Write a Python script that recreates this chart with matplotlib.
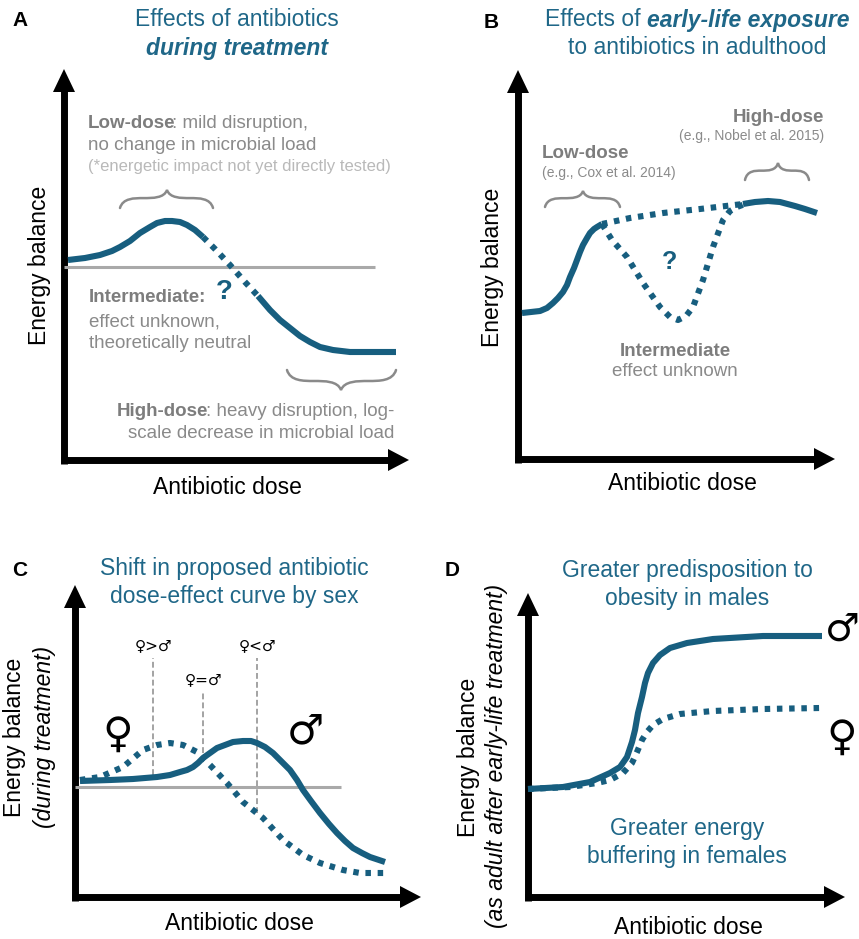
import matplotlib
matplotlib.use('Agg')
import matplotlib.pyplot as plt
from matplotlib.patches import Polygon, PathPatch
from matplotlib.path import Path

plt.rcParams['font.family'] = ['Liberation Sans', 'DejaVu Sans']

# ---------------- data (dose / energy in arbitrary units from each panel's origin) -------------
# Panel A
doseA_low = [4, 21, 36, 48, 56, 66, 76, 86, 93, 101, 108, 116, 123, 131, 139]
energyA_low = [200, 202, 205, 209, 213, 219, 227, 233, 237, 239, 239, 238, 235, 230, 223]
doseA_mid = [139, 151, 166, 181, 194]
energyA_mid = [223, 211, 195, 178, 164]
doseA_high = [194, 200, 206, 216, 226, 236, 246, 256, 269, 286, 303, 332]
energyA_high = [164, 157, 150, 140, 132, 124, 118, 113, 110, 108, 108, 108]
baselineA = 193
baselineA_end = 311

# Panel B
doseB_low = [4, 13, 22, 29, 35, 40, 45, 49, 52, 56, 59, 62, 65, 69, 72, 76, 79, 84]
energyB_low = [146, 147, 148, 151, 156, 161, 167, 174, 182, 191, 199, 207, 214, 221, 226, 230, 232, 235]
doseB_dip = [84, 94, 109, 125, 142, 152, 160, 168, 175, 185, 195, 205, 212, 219, 227]
energyB_dip = [235, 219, 202, 176, 152, 142, 139, 143, 152, 179, 212, 239, 248, 252, 255]
doseB_flat = [84, 112, 145, 182, 225]
energyB_flat = [235, 241, 246, 250, 255]
doseB_high = [225, 237, 250, 262, 277, 287, 299]
energyB_high = [255, 257, 258, 257, 253, 250, 246]

# Panel C
doseC_male = [5, 35, 58, 82, 95, 105, 112, 118, 123, 128, 135, 142, 150, 158, 168, 176, 182, 190,
              198, 206, 215, 222, 228, 236, 245, 254, 262, 270, 278, 287, 295, 310]
energyC_male = [116, 117, 118, 120, 122, 125, 127, 130, 134, 139, 144, 149, 152, 155, 156, 156, 154, 150,
                144, 136, 127, 117, 107, 96, 84, 73, 64, 56, 49, 44, 40, 35]
doseC_female = [5, 25, 48, 68, 82, 95, 108, 122, 135, 152, 168, 188, 208, 228, 245, 268, 285, 310]
energyC_female = [117, 120, 130, 147, 152, 154, 152, 145, 132, 114, 95, 79, 57, 42, 34, 27, 24, 24]
baselineC = 110
baselineC_end = 266
thresh_dose = [78, 128, 182]
thresh_top = [239, 205, 239]
thresh_bottom = [122, 144, 84]
thresh_labels = ['♀>♂', '♀=♂', '♀<♂']

# Panel D
doseD_male = [0, 35, 62, 82, 92, 99, 104, 107, 110, 114, 117, 120, 125, 132, 142, 159, 185, 235, 294]
energyD_male = [108, 110, 115, 124, 130, 140, 155, 167, 184, 200, 214, 224, 234, 242, 249, 254, 258, 261, 261]
doseD_female = [0, 42, 69, 82, 95, 104, 109, 114, 119, 125, 135, 152, 185, 235, 292]
energyD_female = [108, 110, 114, 117, 124, 134, 145, 157, 165, 172, 178, 183, 186, 188, 189]

# ---------------- style -------------
W_PX, H_PX = 859, 939
BLUE = '#175e7f'
BLUE_TXT = '#1f6788'
GRAY_B = '#7d7d7d'
GRAY = '#8a8a8a'
GRAY_L = '#b9b9b9'
LW = 4.4
DOT = (0, (0.9, 1.1))
TITLE_FS = 16.5
LAB_FS = 16.5
ANN_FS = 13.5
SYM = ['DejaVu Sans']

fig = plt.figure(figsize=(W_PX / 100, H_PX / 100), dpi=100)
ov = fig.add_axes([0, 0, 1, 1])
ov.set_xlim(0, W_PX)
ov.set_ylim(H_PX, 0)
ov.axis('off')
renderer = fig.canvas.get_renderer()

# panel geometry: origin x, origin y, arrow tip x, arrow tip y (pixels)
GEOM = {'A': (64, 460, 409, 69), 'B': (518, 459, 835, 70),
        'C': (75, 897, 421, 585), 'D': (528, 897, 845, 593)}


def panel_axes(key):
    ox, oy, tx, ty = GEOM[key]
    w, h = tx - ox, oy - ty
    ax = fig.add_axes([ox / W_PX, (H_PX - oy) / H_PX, w / W_PX, h / H_PX])
    ax.set_xlim(0, w)
    ax.set_ylim(0, h)
    ax.axis('off')
    ax.patch.set_alpha(0)
    ov.plot([ox, ox], [oy + 3.5, ty + 20], color='black', lw=5.0, solid_capstyle='butt')
    ov.plot([ox - 3.5, tx - 18], [oy, oy], color='black', lw=5.0, solid_capstyle='butt')
    ov.add_patch(Polygon([[ox, ty], [ox - 11, ty + 23], [ox + 11, ty + 23]], closed=True,
                         color='black', lw=0))
    ov.add_patch(Polygon([[tx, oy], [tx - 21, oy - 11], [tx - 21, oy + 11]], closed=True,
                         color='black', lw=0))
    return ax


def curve(ax, x, y, dotted=False, z=3):
    if dotted:
        ax.plot(x, y, color=BLUE, lw=LW, linestyle=DOT, dash_capstyle='butt',
                dash_joinstyle='round', clip_on=False, zorder=z)
    else:
        ax.plot(x, y, color=BLUE, lw=LW, solid_capstyle='butt', solid_joinstyle='round',
                clip_on=False, zorder=z)


def brace(x0, x1, xm, ye, yt, color='#8a8a8a', lw=1.8):
    ym = ye - 0.55 * (ye - yt)
    L1 = xm - x0
    L2 = x1 - xm
    verts = [(x0, ye),
             (x0 + 0.06 * L1, ym), (x0 + 0.3 * L1, ym), (x0 + 0.5 * L1, ym),
             (xm - 0.3 * L1, ym), (xm - 0.06 * L1, ym), (xm, yt),
             (xm + 0.06 * L2, ym), (xm + 0.3 * L2, ym), (xm + 0.5 * L2, ym),
             (x1 - 0.3 * L2, ym), (x1 - 0.06 * L2, ym), (x1, ye)]
    codes = [Path.MOVETO] + [Path.CURVE4] * 12
    ov.add_patch(PathPatch(Path(verts, codes), fill=False, edgecolor=color, lw=lw,
                           capstyle='round'))


def txt(x, y, s, fs, color='black', ha='center', va='center', **kw):
    return ov.text(x, y, s, fontsize=fs, color=color, ha=ha, va=va, **kw)


def mixed(x, y, parts, fs, ha='left'):
    """parts: list of (string, color, weight, style, gap_before_px)"""
    objs = []
    for s, c, wgt, sty, gap in parts:
        t = ov.text(0, y, s, fontsize=fs, color=c, fontweight=wgt, fontstyle=sty,
                    ha='left', va='center')
        objs.append((t, gap))
    widths = [t.get_window_extent(renderer).width for t, g in objs]
    total = sum(widths) + sum(g for t, g in objs)
    if ha == 'left':
        cur = x
    elif ha == 'center':
        cur = x - total / 2
    else:
        cur = x - total
    for (t, g), w in zip(objs, widths):
        cur += g
        t.set_x(cur)
        cur += w


# ---------------- Panel A ----------------
axA = panel_axes('A')
axA.plot([0, baselineA_end], [baselineA, baselineA], color='#a9a9a9', lw=2.2, zorder=1,
         solid_capstyle='butt')
curve(axA, doseA_low, energyA_low)
curve(axA, doseA_mid, energyA_mid, dotted=True)
curve(axA, doseA_high, energyA_high)

txt(20, 20, 'A', 15, fontweight='bold')
txt(237, 20, 'Effects of antibiotics', TITLE_FS, BLUE_TXT)
txt(237, 48, 'during treatment', TITLE_FS, BLUE_TXT, fontweight='bold', fontstyle='italic')
txt(40, 265, 'Energy balance', LAB_FS, rotation=90)
txt(227, 487, 'Antibiotic dose', LAB_FS)

mixed(88, 123, [('Low-dose', GRAY_B, 'bold', 'normal', 0),
                (': mild disruption,', GRAY, 'normal', 'normal', -3)], ANN_FS)
txt(88, 145, 'no change in microbial load', ANN_FS, GRAY, ha='left')
txt(88, 166, '(*energetic impact not yet directly tested)', 12, GRAY_L, ha='left')
brace(120, 213, 167, 208, 190)

txt(89, 298, 'Intermediate:', ANN_FS, GRAY_B, ha='left', fontweight='bold')
txt(89, 322, 'effect unknown,', ANN_FS, GRAY, ha='left')
txt(89, 344, 'theoretically neutral', ANN_FS, GRAY, ha='left')
txt(224, 292, '?', 20, BLUE, fontweight='bold')

brace(287, 396, 341, 370, 390)
mixed(394, 411, [('High-dose', GRAY_B, 'bold', 'normal', 0),
                 (': heavy disruption, log-', GRAY, 'normal', 'normal', -3)], ANN_FS, ha='right')
txt(394, 433, 'scale decrease in microbial load', ANN_FS, GRAY, ha='right')

# ---------------- Panel B ----------------
axB = panel_axes('B')
curve(axB, doseB_low, energyB_low)
curve(axB, doseB_dip, energyB_dip, dotted=True)
curve(axB, doseB_flat, energyB_flat, dotted=True)
curve(axB, doseB_high, energyB_high)

txt(491, 22, 'B', 15, fontweight='bold')
mixed(697, 20, [('Effects of', BLUE_TXT, 'normal', 'normal', 0),
                ('early-life exposure', BLUE_TXT, 'bold', 'italic', 6.4)], TITLE_FS, ha='center')
txt(697, 48, 'to antibiotics in adulthood', TITLE_FS, BLUE_TXT)
txt(492, 267, 'Energy balance', LAB_FS, rotation=90)
txt(682, 483, 'Antibiotic dose', LAB_FS)

txt(542, 153, 'Low-dose', ANN_FS, GRAY_B, ha='left', fontweight='bold')
txt(542, 173, '(e.g., Cox et al. 2014)', 10, GRAY, ha='left')
brace(545, 620, 583, 207, 191)
txt(824, 117, 'High-dose', ANN_FS, GRAY_B, ha='right', fontweight='bold')
txt(824, 136, '(e.g., Nobel et al. 2015)', 10, GRAY, ha='right')
brace(745, 809, 778, 180, 163)
txt(670, 262, '?', 18, BLUE, fontweight='bold')
txt(675, 351, 'Intermediate', ANN_FS, GRAY_B, fontweight='bold')
txt(675, 372, 'effect unknown', ANN_FS, GRAY)

# ---------------- Panel C ----------------
axC = panel_axes('C')
axC.plot([0, baselineC_end], [baselineC, baselineC], color='#a9a9a9', lw=2.2, zorder=1,
         solid_capstyle='butt')
for xd, yt_, yb_ in zip(thresh_dose, thresh_top, thresh_bottom):
    axC.plot([xd, xd], [yb_, yt_], color='#a3a3a3', lw=1.4, linestyle=(0, (3, 1.6)),
             zorder=2, clip_on=False)
curve(axC, doseC_male, energyC_male, z=4)
curve(axC, doseC_female, energyC_female, dotted=True, z=3)
for xd, yt_, lab in zip(thresh_dose, thresh_top, thresh_labels):
    axC.text(xd, yt_ + 12, lab, fontsize=11, ha='center', va='center', color='black',
             family=SYM)

txt(20, 571, 'C', 15, fontweight='bold')
txt(234, 568, 'Shift in proposed antibiotic', TITLE_FS, BLUE_TXT)
txt(234, 597, 'dose-effect curve by sex', TITLE_FS, BLUE_TXT)
txt(15, 737, 'Energy balance', LAB_FS, rotation=90)
txt(45, 737, '(during treatment)', LAB_FS, rotation=90, fontstyle='italic')
txt(239, 923, 'Antibiotic dose', LAB_FS)
txt(118, 735, '♀', 30, family=SYM)
txt(305, 731, '♂', 30, family=SYM)

# ---------------- Panel D ----------------
axD = panel_axes('D')
curve(axD, doseD_female, energyD_female, dotted=True, z=3)
curve(axD, doseD_male, energyD_male, z=4)

txt(452, 570, 'D', 15, fontweight='bold')
txt(687, 571, 'Greater predisposition to', TITLE_FS, BLUE_TXT)
txt(687, 599, 'obesity in males', TITLE_FS, BLUE_TXT)
txt(687, 829, 'Greater energy', TITLE_FS, BLUE_TXT)
txt(687, 857, 'buffering in females', TITLE_FS, BLUE_TXT)
txt(468, 757, 'Energy balance', LAB_FS, rotation=90)
txt(497, 756, '(as adult after early-life treatment)', LAB_FS, rotation=90, fontstyle='italic')
txt(688, 927, 'Antibiotic dose', LAB_FS)
txt(842, 630, '♂', 28, family=SYM)
txt(842, 738, '♀', 30, family=SYM)

fig.savefig('out.png', dpi=100)
